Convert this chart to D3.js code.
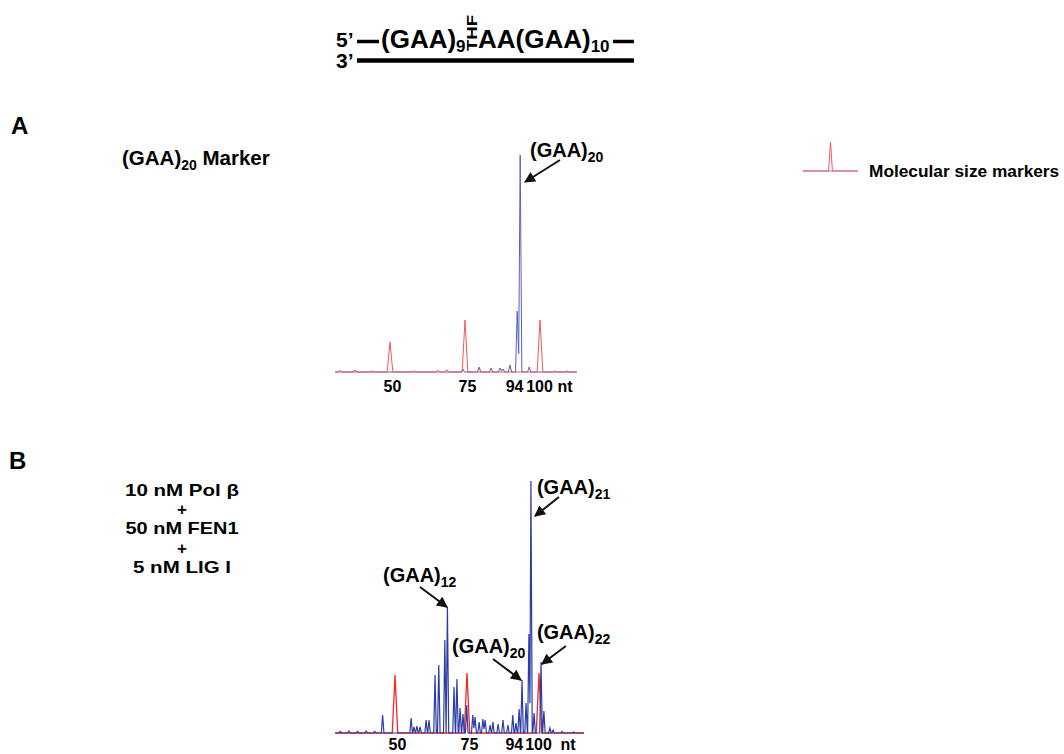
<!DOCTYPE html>
<html>
<head>
<meta charset="utf-8">
<script src="https://cdn.jsdelivr.net/npm/d3@7"></script>
<style>
  body { margin: 0; background: #fff; }
  text { font-family: "Liberation Sans", Arial, sans-serif; font-weight: bold; fill: #000; }
</style>
</head>
<body>
<svg id="chart" width="1064" height="754"></svg>
<script>
// ---- data (size in nt, peak height in px-like units) ----
const sizeTicks = [50, 75, 94, 100];
const markerSizes = [50, 75, 100];
const markerHeightsA = [30, 52, 52];
const markerHeightsB = [58, 60, 60];
const extraRedA = [[68.9, 2]];
const traceRangeA = [31.7, 112.3];
const traceRangeB = [29.2, 115.6];

const bluePeaksA = [[33.3, 1.5], [38.3, 2], [44, 1], [58, 1], [66, 1.5], [74.3, 3], [79.7, 5],
  [83.7, 4], [86.7, 4], [87.7, 3], [90, 7], [92.4, 61], [93.4, 217], [96.4, 5], [105, 1], [109, 1]];

const bluePeaksB = [[31, 1.5], [34, 2], [37, 1.5], [40, 2], [43, 1.5], [45.7, 18], [55.6, 15],
  [56.6, 6], [57.6, 7], [58.7, 6], [60.8, 13], [61.8, 13], [63.9, 58], [65.2, 68], [67.3, 93],
  [68.2, 126], [70.5, 46], [71.5, 54], [72.6, 25], [73.6, 19], [74.9, 28], [77.0, 18], [77.8, 16],
  [79.2, 11], [80.5, 14], [81.3, 13], [83.0, 8], [84.0, 11], [85.8, 9], [87.5, 13], [89.2, 8],
  [90.9, 18], [92.0, 10], [93.1, 24], [94.1, 53], [95.5, 30], [96.5, 99], [97.2, 252], [98.3, 20],
  [100.7, 71], [101.7, 22], [103.8, 5], [104.9, 3], [108, 1.5], [112, 1]];

// arrow targets (nt, height) and subscript of each label
const annotA = [{ sub: '20', nt: 95, h: 190 }];
const annotB = [
  { sub: '21', nt: 98.6, h: 217 },
  { sub: '12', nt: 68.05, h: 126 },
  { sub: '20', nt: 93.75, h: 53 },
  { sub: '22', nt: 101.0, h: 69 }
];
const legendPeak = [[10, 29]];
const conditionLines = ['10 nM Pol β', '+', '50 nM FEN1', '+', '5 nM LIG I'];

const svg = d3.select('#chart');

svg.append('defs').append('marker')
  .attr('id', 'arrow')
  .attr('viewBox', '0 0 10 10')
  .attr('refX', 9).attr('refY', 5)
  .attr('markerUnits', 'userSpaceOnUse')
  .attr('markerWidth', 12).attr('markerHeight', 11)
  .attr('orient', 'auto')
  .append('path').attr('d', 'M0,0 L10,5 L0,10 z').attr('fill', '#111');

// build a spiky trace from peak list
function tracePath(peaks, x, y, w, range) {
  const sorted = peaks.slice().sort((a, b) => a[0] - b[0]);
  const pts = [[range[0], 0]];
  sorted.forEach(([p, h], i) => {
    const prev = sorted[i - 1];
    if (prev && p - w < prev[0] + w) {
      pts.pop();
      pts.push([(prev[0] + p) / 2, Math.min(prev[1], h) * 0.3]);
    } else {
      pts.push([p - w, 0]);
    }
    pts.push([p, h], [p + w, 0]);
  });
  pts.push([range[1], 0]);
  return d3.line().x(d => x(d[0])).y(d => y(d[1]))(pts);
}

function drawAxis(x, yPos, ntDx) {
  const axis = d3.axisBottom(x).tickValues(sizeTicks).tickSize(0).tickPadding(0)
    .tickFormat(d3.format('d'));
  const g = svg.append('g').attr('transform', `translate(0,${yPos})`).call(axis);
  g.select('.domain').remove();
  g.selectAll('text')
    .attr('font-size', 16)
    .attr('font-family', '"Liberation Sans", Arial, sans-serif')
    .attr('fill', '#000')
    .attr('dy', 0)
    .attr('text-anchor', d => d === 94 ? 'end' : 'middle')
    .attr('dx', d => d === 94 ? 1 : (d === 100 ? -1 : 2));
  g.append('text').attr('x', x(100) + ntDx).attr('y', 0)
    .attr('font-size', 16).attr('fill', '#000').text('nt');
}

function gaaLabel(x, y, sub) {
  const t = svg.append('text').attr('x', x).attr('y', y).attr('font-size', 20);
  t.append('tspan').text('(GAA)');
  t.append('tspan').attr('font-size', 14).attr('dy', 5).text(sub);
  return t;
}

function drawAnnot(list, x, y, layout) {
  list.forEach((a, i) => {
    const L = layout[i];
    const tx = x(a.nt), ty = y(a.h);
    const sx = tx + L[0], sy = ty + L[1];
    svg.append('line')
      .attr('x1', sx).attr('y1', sy).attr('x2', tx).attr('y2', ty)
      .attr('stroke', '#111').attr('stroke-width', 2)
      .attr('marker-end', 'url(#arrow)');
    gaaLabel(sx + L[2], sy + L[3], a.sub);
  });
}

// ---- schematic substrate ----
const sch = svg.append('g');
sch.append('text').attr('x', 336).attr('y', 47).attr('font-size', 21).text('5’');
sch.append('text').attr('x', 336).attr('y', 68).attr('font-size', 21).text('3’');
sch.append('line').attr('x1', 357).attr('x2', 379).attr('y1', 41.5).attr('y2', 41.5)
  .attr('stroke', '#000').attr('stroke-width', 3.5);
sch.append('line').attr('x1', 613).attr('x2', 634).attr('y1', 41.5).attr('y2', 41.5)
  .attr('stroke', '#000').attr('stroke-width', 3.5);
sch.append('line').attr('x1', 357).attr('x2', 634).attr('y1', 60.5).attr('y2', 60.5)
  .attr('stroke', '#000').attr('stroke-width', 4.5);
const s1 = sch.append('text').attr('x', 381).attr('y', 48).attr('font-size', 26);
s1.append('tspan').text('(GAA)');
s1.append('tspan').attr('font-size', 17).attr('dy', 4).text('9');
sch.append('text').attr('transform', 'translate(477,51) rotate(-90)')
  .attr('font-size', 14).attr('textLength', 36).attr('lengthAdjust', 'spacingAndGlyphs')
  .text('THF');
const s2 = sch.append('text').attr('x', 478).attr('y', 48).attr('font-size', 26);
s2.append('tspan').text('AA(GAA)');
s2.append('tspan').attr('font-size', 17).attr('dy', 4).text('10');

// ---- panel A ----
svg.append('text').attr('x', 11).attr('y', 134).attr('font-size', 24).text('A');
const tA = svg.append('text').attr('x', 122).attr('y', 165).attr('font-size', 20.5);
tA.append('tspan').text('(GAA)');
tA.append('tspan').attr('font-size', 14).attr('dy', 5).text('20');
tA.append('tspan').attr('dy', -5).text(' Marker');

const xA = d3.scaleLinear().domain([50, 100]).range([390, 540]);
const yA = d3.scaleLinear().domain([0, 217]).range([372, 155]);
const redA = markerSizes.map((s, i) => [s, markerHeightsA[i]]).concat(extraRedA);

svg.append('path').attr('d', tracePath(bluePeaksA, xA, yA, 0.55, traceRangeA))
  .attr('fill', 'none').attr('stroke', '#5561c4').attr('stroke-width', 1);
svg.append('path').attr('d', tracePath(redA, xA, yA, 0.95, traceRangeA))
  .attr('fill', 'none').attr('stroke', '#f05a5a').attr('stroke-width', 1);
drawAxis(xA, 392, 25);
drawAnnot(annotA, xA, yA, [[35, -22, -30, -3]]);

// legend
const xL = d3.scaleLinear().domain([0, 20]).range([803, 858]);
const yL = d3.scaleLinear().domain([0, 29]).range([171, 142]);
svg.append('path').attr('d', tracePath([], xL, yL, 0.5, [0, 20]))
  .attr('fill', 'none').attr('stroke', '#8a8ad8').attr('stroke-width', 1);
svg.append('path').attr('d', tracePath(legendPeak, xL, yL, 0.7, [0, 20]))
  .attr('fill', 'none').attr('stroke', '#f05a5a').attr('stroke-width', 1);
svg.append('text').attr('x', 869).attr('y', 177).attr('font-size', 17.3).text('Molecular size markers');

// ---- panel B ----
svg.append('text').attr('x', 9).attr('y', 469).attr('font-size', 24).text('B');
// lines are set tight in the original, so use a smaller em box stretched to the original widths
const condWidths = [114, null, 113, null, 98];
conditionLines.forEach((s, i) => {
  const t = svg.append('text').attr('x', 182).attr('y', 496 + i * 19.2)
    .attr('font-size', 17).attr('text-anchor', 'middle').text(s);
  if (condWidths[i]) t.attr('textLength', condWidths[i]).attr('lengthAdjust', 'spacingAndGlyphs');
});

const xB = d3.scaleLinear().domain([50, 100]).range([395, 539]);
const yB = d3.scaleLinear().domain([0, 252]).range([733, 481]);
const redB = markerSizes.map((s, i) => [s, markerHeightsB[i]]);

svg.append('path').attr('d', tracePath(redB, xB, yB, 0.95, traceRangeB))
  .attr('fill', 'none').attr('stroke', '#ee2a2a').attr('stroke-width', 1.3);
svg.append('path').attr('d', tracePath(bluePeaksB, xB, yB, 0.45, traceRangeB))
  .attr('fill', 'none').attr('stroke', '#2c3da6').attr('stroke-width', 1.2);
drawAxis(xB, 750, 29);
drawAnnot(annotB, xB, yB, [
  [24, -19, -22, -3],
  [-27, -20, -37, -5],
  [-28, -21, -41, -6],
  [24, -18, -29, -7]
]);
</script>
</body>
</html>
